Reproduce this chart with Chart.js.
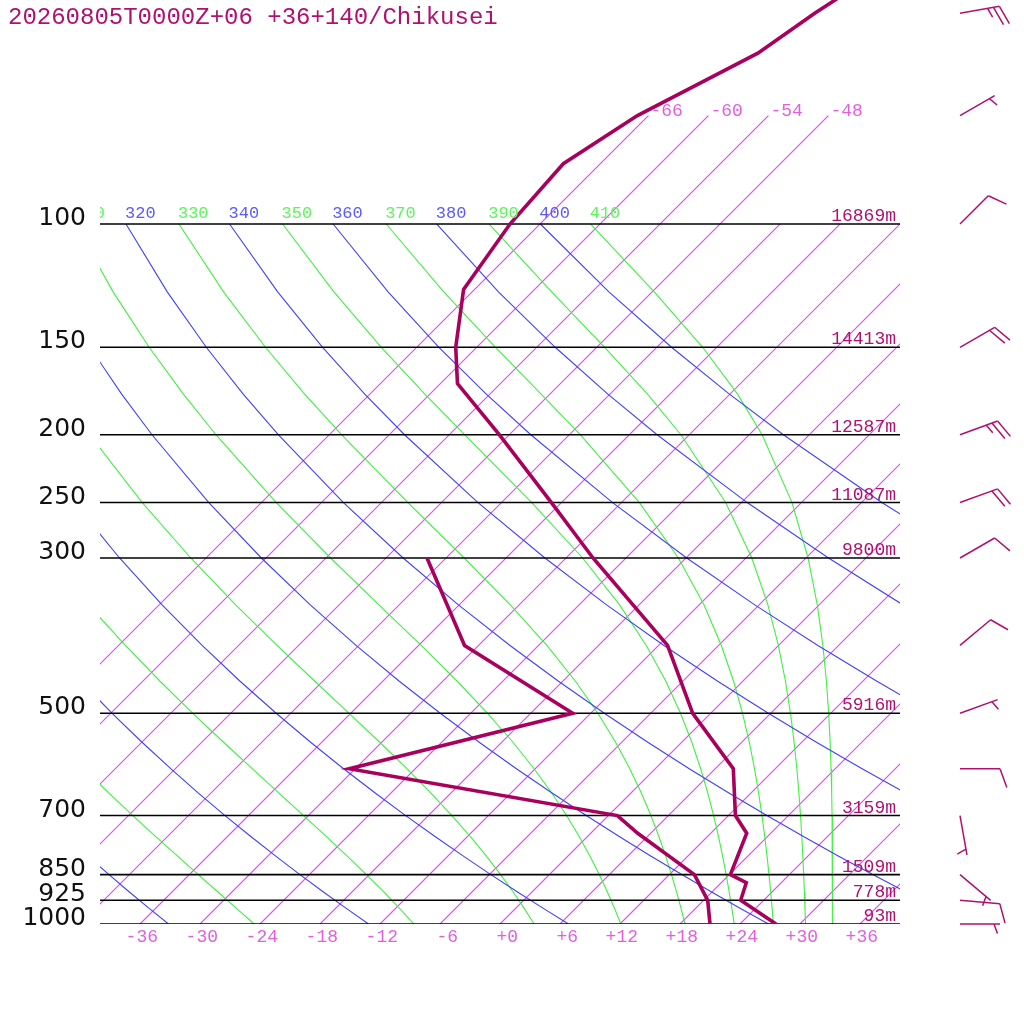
<!DOCTYPE html>
<html><head><meta charset="utf-8">
<script src="https://cdn.jsdelivr.net/npm/chart.js@4/dist/chart.umd.min.js"></script>
<style>html,body{margin:0;padding:0;background:#fff}#wrap{width:1024px;height:1024px;position:relative}</style>
</head><body><div id="wrap"><canvas id="c" width="1024" height="1024"></canvas></div>
<script>
// ---------- data ----------
const TITLE = "20260805T0000Z+06 +36+140/Chikusei";
const levelP = [1000, 925, 850, 700, 500, 300, 250, 200, 150, 100];
const levelLabels = ["1000", "925", "850", "700", "500", "300", "250", "200", "150", "100"];
const heightLabels = ["93m", "778m", "1509m", "3159m", "5916m", "9800m", "11087m", "12587m", "14413m", "16869m"];
const tempP = [1000, 925, 873, 850, 742, 700, 600, 500, 400, 300, 250, 200, 169, 150, 124, 100, 82, 70, 57, 50, 40];
const tempC = [27.6, 21.7, 20.5, 18.1, 15.6, 12.7, 7.8, -1.8, -11.1, -27.3, -37.0, -49.0, -58.3, -62.1, -67.1, -69.0, -69.7, -67.1, -61.3, -59.6, -56.0];
const dewP = [1000, 925, 850, 742, 700, 600, 500, 400, 300];
const dewC = [21.0, 18.4, 14.5, 4.7, 0.9, -30.6, -13.8, -31.4, -43.9];
const windP = [50, 70, 100, 150, 200, 250, 300, 400, 500, 600, 700, 850, 925, 1000];
const windDir = [80, 60, 45, 60, 70, 70, 60, 50, 70, 90, 170, 130, 95, 90];
const windKt = [25, 5, 10, 20, 25, 20, 10, 10, 5, 10, 5, 5, 10, 5];
const isoT = [-66, -60, -54, -48, -42, -36, -30, -24, -18, -12, -6, 0, 6, 12, 18, 24, 30, 36];
const isoLabelT = [-66, -60, -54, -48];
const tickT = [-36, -30, -24, -18, -12, -6, 0, 6, 12, 18, 24, 30, 36];
const thetaDry = [240, 260, 280, 300, 320, 340, 360, 380, 400];
const thetaMoist = [250, 270, 290, 310, 330, 350, 370, 390, 410];

// ---------- diagram geometry ----------
const SK = 30.4;                         // skew (deg per unit ln p)
const PTOP = 1000 * Math.exp(-924 / 304);
const curveP = [100, 125, 150, 175, 200, 250, 300, 350, 400, 450, 500, 550, 600, 650, 700, 750, 800, 850, 900, 950, 1000];
const sx = (T, p) => T + SK * Math.log(1000 / p);

function thetaESat(T, p) {
  const Tc = T - 273.15;
  const e = 6.112 * Math.exp(17.67 * Tc / (Tc + 243.5));
  const r = 622 * e / (p - e);
  return T * Math.pow(1000 / p, 0.2854 * (1 - 0.00028 * r)) *
    Math.exp((3.376 / T - 0.00254) * r * (1 + 0.00081 * r));
}
function moistT(te, p) {
  let lo = 150, hi = 325;
  for (let i = 0; i < 60; i++) {
    const m = (lo + hi) / 2;
    if (thetaESat(m, p) < te) lo = m; else hi = m;
  }
  return (lo + hi) / 2 - 273.15;
}

const C_T = '#a8005c';
const C_ISO = 'rgb(222,72,245)';
const C_ISOTXT = '#e060e0';
const C_BLUE = 'rgb(64,64,255)';
const C_GREEN = 'rgb(64,240,64)';
const C_H = '#b01070';

const ds = [];
function lineDs(points, color, width) {
  return { data: points, showLine: true, borderColor: color, backgroundColor: color, borderWidth: width, pointRadius: 0, fill: false, tension: 0 };
}
ds.push(lineDs(tempP.map((p, i) => ({ x: sx(tempC[i], p), y: p })), C_T, 3.6));
ds.push(lineDs(dewP.map((p, i) => ({ x: sx(dewC[i], p), y: p })), C_T, 3.6));
levelP.forEach(p => ds.push(lineDs([{ x: -40, y: p }, { x: 40, y: p }], '#000', 1.6)));
thetaDry.forEach(th => {
  ds.push(lineDs(curveP.map(p => ({ x: sx(th * Math.pow(p / 1000, 0.2857) - 273.15, p), y: p })), C_BLUE, 1.1));
});
thetaMoist.forEach(te => {
  ds.push(lineDs(curveP.map(p => ({ x: sx(moistT(te, p), p), y: p })), C_GREEN, 1.1));
});
isoT.forEach(T => {
  const top = isoLabelT.includes(T) ? 70 : 100;
  ds.push(lineDs([{ x: sx(T, 1000), y: 1000 }, { x: sx(T, top), y: top }], C_ISO, 1.1));
});

const overlay = {
  id: 'overlay',
  afterDatasetsDraw(chart) {
    const { ctx, chartArea: a, scales: { x: xs, y: ys } } = chart;
    const px = (T, p) => xs.getPixelForValue(sx(T, p));
    const py = p => ys.getPixelForValue(p);
    ctx.save();
    ctx.fillStyle = C_H; ctx.font = '24px "Liberation Mono"'; ctx.textAlign = 'left'; ctx.textBaseline = 'alphabetic';
    ctx.fillText(TITLE, 8, 24);
    ctx.fillStyle = '#111'; ctx.font = '25px "DejaVu Sans"'; ctx.textAlign = 'right';
    levelP.forEach((p, i) => ctx.fillText(levelLabels[i], a.left - 14, py(p) + 1));
    ctx.fillStyle = C_H; ctx.font = '18px "Liberation Mono"'; ctx.textAlign = 'right';
    levelP.forEach((p, i) => ctx.fillText(heightLabels[i], a.right - 4, py(p) - 3));
    ctx.fillStyle = C_ISOTXT; ctx.font = '18px "Liberation Mono"'; ctx.textAlign = 'right';
    tickT.forEach(T => ctx.fillText((T >= 0 ? '+' : '-') + Math.abs(T), px(T, 1000) + 18, a.bottom + 18));
    ctx.textAlign = 'left';
    isoLabelT.forEach(T => ctx.fillText('-' + Math.abs(T), px(T, 70) + 2, py(70)));
    ctx.save();
    ctx.beginPath(); ctx.rect(a.left, 0, a.right - a.left, a.bottom); ctx.clip();
    ctx.font = '17px "Liberation Mono"'; ctx.textAlign = 'left';
    const lab = [];
    thetaDry.forEach(th => lab.push([th, th * Math.pow(0.1, 0.2857) - 273.15, '#5a5aff']));
    thetaMoist.forEach(te => lab.push([te, moistT(te, 100), '#5cf55c']));
    lab.forEach(([v, T, c]) => { ctx.fillStyle = c; ctx.fillText(String(v), px(T, 100) - 1, py(100) - 6); });
    ctx.restore();
    ctx.strokeStyle = C_H; ctx.lineWidth = 1.5; ctx.lineCap = 'butt';
    const ox = a.right + 60, L = 40;
    windP.forEach((p, i) => {
      const oy = py(p);
      const ang = (windDir[i] - 90) * Math.PI / 180;
      const ux = Math.cos(ang), uy = Math.sin(ang);
      const ex = ox + ux * L, ey = oy + uy * L;
      ctx.beginPath(); ctx.moveTo(ox, oy); ctx.lineTo(ex, ey); ctx.stroke();
      const fa = ang + 70 * Math.PI / 180;
      const fx = Math.cos(fa), fy = Math.sin(fa);
      const spd = windKt[i];
      let pos = 0;
      const full = Math.floor(spd / 10), half = Math.round((spd - full * 10) / 5);
      if (full === 0) pos = 6;
      for (let k = 0; k < full; k++) {
        const bx = ex - ux * pos, by = ey - uy * pos;
        ctx.beginPath(); ctx.moveTo(bx, by); ctx.lineTo(bx + fx * 20, by + fy * 20); ctx.stroke();
        pos += 6;
      }
      for (let k = 0; k < half; k++) {
        const bx = ex - ux * pos, by = ey - uy * pos;
        ctx.beginPath(); ctx.moveTo(bx, by); ctx.lineTo(bx + fx * 10, by + fy * 10); ctx.stroke();
        pos += 6;
      }
    });
    ctx.restore();
  }
};

new Chart(document.getElementById('c').getContext('2d'), {
  type: 'scatter',
  data: { datasets: ds },
  options: {
    responsive: false, animation: false, devicePixelRatio: 1,
    layout: { padding: { left: 100, right: 124, top: 0, bottom: 100 } },
    scales: {
      x: { type: 'linear', min: -40, max: 40, display: false, bounds: 'data' },
      y: { type: 'logarithmic', min: PTOP, max: 1000, reverse: true, display: false, bounds: 'data' }
    },
    plugins: { legend: { display: false }, tooltip: { enabled: false } },
    elements: { point: { radius: 0 } }
  },
  plugins: [overlay]
});
</script></body></html>
